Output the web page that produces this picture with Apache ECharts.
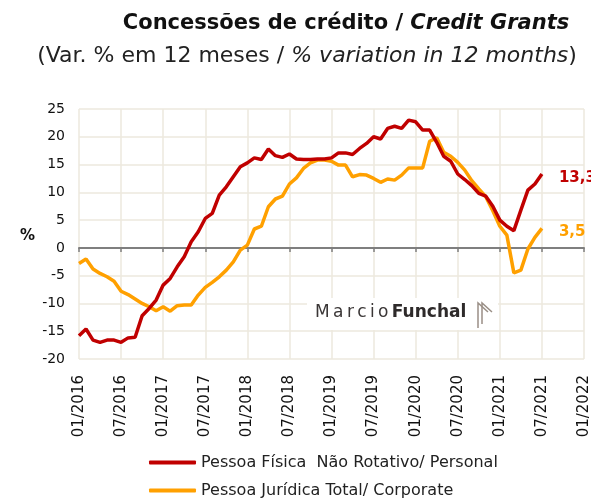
<!DOCTYPE html>
<html>
<head>
<meta charset="utf-8">
<script src="https://cdn.jsdelivr.net/npm/echarts@6/dist/echarts.min.js"></script>
<style>
  html, body { margin: 0; padding: 0; background: #fff; }
  #chart { width: 591px; height: 500px; }
</style>
</head>
<body>
<div id="chart"></div>
<script>
// meses de 01/2016 até 01/2022 (eixo), dados até 07/2021
var months = [];
for (var y = 2016; y <= 2022; y++) {
  for (var m = 1; m <= 12; m++) {
    if (y === 2022 && m > 1) break;
    months.push((m < 10 ? "0" + m : "" + m) + "/" + y);
  }
}

// Pessoa Física Não Rotativo (var. % 12 meses)
var personal = [
  -15.8, -14.6, -16.6, -17.0, -16.6, -16.6, -17.0, -16.2, -16.1, -12.2, -10.9, -9.4,
  -6.7, -5.5, -3.4, -1.6, 1.1, 2.9, 5.3, 6.2, 9.5, 11.0, 12.8, 14.6,
  15.3, 16.2, 15.9, 17.8, 16.6, 16.3, 16.9, 16.0, 15.9, 15.9, 16.0, 16.0,
  16.2, 17.1, 17.1, 16.8, 17.9, 18.8, 20.0, 19.6, 21.5, 21.9, 21.5, 23.0,
  22.7, 21.2, 21.2, 19.0, 16.5, 15.6, 13.3, 12.3, 11.2, 9.8, 9.3, 7.5,
  5.0, 3.9, 3.1, 6.8, 10.4, 11.5, 13.3
];

// Pessoa Jurídica Total
var corporate = [
  -2.8, -2.0, -3.8, -4.6, -5.2, -6.0, -7.8, -8.4, -9.2, -10.0, -10.6, -11.3,
  -10.6, -11.4, -10.4, -10.3, -10.3, -8.5, -7.1, -6.2, -5.2, -4.0, -2.5, -0.4,
  0.5, 3.4, 3.9, 7.4, 8.8, 9.3, 11.5, 12.6, 14.3, 15.3, 15.8, 15.8,
  15.6, 14.9, 14.9, 12.8, 13.2, 13.1, 12.5, 11.8, 12.4, 12.2, 13.1, 14.4,
  14.4, 14.4, 19.2, 19.8, 17.2, 16.5, 15.4, 14.0, 12.1, 10.6, 9.2, 6.7,
  3.9, 2.3, -4.5, -4.0, -0.2, 1.9, 3.5
];

var seriesNames = [
  "Pessoa Física  Não Rotativo/ Personal",
  "Pessoa Jurídica Total/ Corporate"
];

var font = "DejaVu Sans";
var gridColor = "#ECE8DE";

var myChart = echarts.init(document.getElementById("chart"));

function endLabel(color) {
  return {
    show: true,
    distance: 17,
    offset: [0, 4],
    color: color,
    fontFamily: font,
    fontWeight: "bold",
    fontSize: 15,
    formatter: function (p) {
      return String(p.value).replace(".", ",");
    }
  };
}

var options = {
  backgroundColor: "#fff",
  animation: false,
  title: [
    {
      text: "Concessões de crédito / {i|Credit Grants}",
      left: 341,
      textAlign: "center",
      top: 8,
      textStyle: {
        fontFamily: font,
        fontSize: 21,
        fontWeight: "bold",
        color: "#111",
        rich: {
          i: { fontFamily: font, fontSize: 21, fontWeight: "bold", fontStyle: "italic", color: "#111" }
        }
      }
    },
    {
      text: "(Var. % em 12 meses / {i|% variation in 12 months})",
      left: 302,
      textAlign: "center",
      top: 40,
      textStyle: {
        fontFamily: font,
        fontSize: 22,
        fontWeight: "normal",
        color: "#222",
        rich: {
          i: { fontFamily: font, fontSize: 22, fontStyle: "italic", color: "#222" }
        }
      }
    }
  ],
  legend: {
    orient: "vertical",
    left: 144,
    top: 449,
    height: 80,
    itemWidth: 47,
    itemHeight: 4,
    itemGap: 11,
    icon: "roundRect",
    textStyle: { fontFamily: font, fontSize: 16, color: "#222", lineHeight: 17 },
    data: seriesNames
  },
  grid: {
    left: 79,
    right: 7,
    top: 109,
    bottom: 141,
    outerBoundsMode: "none"
  },
  xAxis: {
    type: "category",
    data: months,
    boundaryGap: false,
    axisLine: { onZero: true, lineStyle: { color: "#7f7f7f", width: 2 } },
    axisTick: { show: true, interval: 5, length: 4, lineStyle: { color: "#7f7f7f", width: 1.5 } },
    axisLabel: {
      interval: 5,
      rotate: 90,
      margin: 16,
      fontFamily: font,
      fontSize: 15,
      color: "#111"
    },
    splitLine: { show: true, interval: 5, lineStyle: { color: gridColor, width: 1.5 } }
  },
  yAxis: {
    type: "value",
    min: -20,
    max: 25,
    interval: 5,
    axisLine: { show: false },
    axisTick: { show: false },
    axisLabel: { fontFamily: font, fontSize: 14, color: "#111", margin: 14 },
    splitLine: { lineStyle: { color: gridColor, width: 1.5 } }
  },
  series: [
    {
      name: seriesNames[0],
      type: "line",
      data: personal,
      symbol: "none",
      z: 3,
      lineStyle: { color: "#C00000", width: 3.5 },
      itemStyle: { color: "#C00000" },
      endLabel: endLabel("#C00000")
    },
    {
      name: seriesNames[1],
      type: "line",
      data: corporate,
      symbol: "none",
      z: 2,
      lineStyle: { color: "#FFA000", width: 3.5 },
      itemStyle: { color: "#FFA000" },
      endLabel: endLabel("#FFA000")
    }
  ],
  graphic: [
    // nome do eixo y
    {
      type: "text",
      left: 20,
      top: 229,
      style: { text: "%", fontFamily: font, fontSize: 15, fontWeight: "bold", fill: "#111" }
    },
    // marca d'água
    {
      type: "rect",
      z: 1,
      shape: { x: 307, y: 298, width: 191, height: 32 },
      style: { fill: "#fff" }
    },
    {
      type: "text",
      z: 1,
      left: 315,
      top: 304,
      style: {
        text: "{a|M\u2009a\u2009r\u2009c\u2009i\u2009o} {b|Funchal}",
        rich: {
          a: { fontFamily: font, fontSize: 17, fontWeight: "normal", fill: "#3a3636" },
          b: { fontFamily: font, fontSize: 17, fontWeight: "bold", fill: "#2e2a2a" }
        }
      }
    },
    {
      type: "polyline",
      z: 1,
      shape: { points: [[478, 328], [478, 303], [488, 312]] },
      style: { stroke: "#9a8f86", lineWidth: 1.5, fill: null }
    },
    {
      type: "polyline",
      z: 1,
      shape: { points: [[482, 324], [482, 303], [492, 312]] },
      style: { stroke: "#9a8f86", lineWidth: 1.5, fill: null }
    }
  ]
};

myChart.setOption(options);
</script>
</body>
</html>
